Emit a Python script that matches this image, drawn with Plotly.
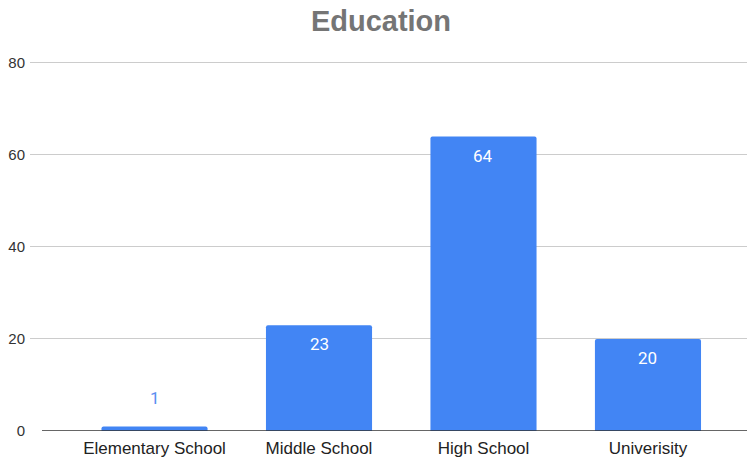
import plotly.graph_objects as go

categories = ["Elementary School", "Middle School", "High School", "Univerisity"]
values = [1, 23, 64, 20]
y_ticks = [0, 20, 40, 60, 80]

BLUE = "#4285F4"

fig = go.Figure()
fig.add_trace(go.Bar(
    x=list(range(len(categories))), y=values,
    marker=dict(color=BLUE, line=dict(width=0)),
    width=0.645, hoverinfo="skip",
))

annotations = []
for i, v in enumerate(values):
    inside = v >= 5
    annotations.append(dict(
        x=i, y=v, xref="x", yref="y", text=str(v), showarrow=False,
        yanchor="top" if inside else "bottom",
        yshift=-7 if inside else 16,
        font=dict(family="Roboto, Arial, sans-serif", size=17,
                  color="white" if inside else "#5a8ef0"),
    ))

fig.update_layout(
    width=747, height=461,
    margin=dict(l=30, r=0, t=61, b=30),
    paper_bgcolor="white", plot_bgcolor="white",
    title=dict(text="<b>Education</b>", x=0.51, xanchor="center", y=0.955, yanchor="middle",
               font=dict(family="Arial, Liberation Sans, sans-serif", size=29, color="#757575")),
    showlegend=False,
    barcornerradius=2,
    annotations=annotations,
    xaxis=dict(range=[-0.757, 3.602], tickvals=list(range(len(categories))), ticktext=categories,
               showgrid=False, zeroline=False, showline=False, ticks="", ticklabelstandoff=5,
               tickfont=dict(family="Arial, Liberation Sans, sans-serif", size=17, color="#222222")),
    yaxis=dict(range=[0, 80.43], tickvals=y_ticks, showgrid=True, gridcolor="#cccccc", gridwidth=1,
               zeroline=False, showline=False, ticks="", ticklabelstandoff=4,
               tickfont=dict(family="Arial, Liberation Sans, sans-serif", size=15, color="#333333")),
    shapes=[dict(type="line", xref="paper", yref="y", x0=0.0167, x1=1, y0=0, y1=0,
                 line=dict(color="#333333", width=1.5))],
)

fig.write_html("out.html")
